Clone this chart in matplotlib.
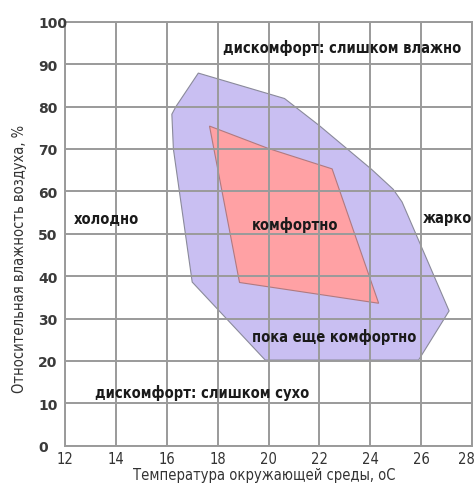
import matplotlib
matplotlib.use('Agg')
import matplotlib.pyplot as plt
from matplotlib.transforms import ScaledTranslation

# outer zone: "пока еще комфортно"
outer_t = [17.24, 20.63, 22.0, 24.05, 24.9, 25.25, 27.1, 25.9, 19.87, 17.0, 16.26, 16.2, 16.36]
outer_h = [87.9, 81.9, 75.5, 65.2, 60.5, 57.5, 31.8, 20.2, 20.2, 38.6, 70.0, 78.2, 80.0]

# inner zone: "комфортно"
inner_t = [17.68, 20.0, 22.5, 24.33, 18.86]
inner_h = [75.4, 70.1, 65.3, 33.6, 38.5]

x_ticks = [12, 14, 16, 18, 20, 22, 24, 26, 28]
y_ticks = [0, 10, 20, 30, 40, 50, 60, 70, 80, 90, 100]

labels = ['дискомфорт: слишком влажно', 'холодно', 'комфортно', 'жарко',
          'пока еще комфортно', 'дискомфорт: слишком сухо']
label_t = [22.9, 12.35, 21.05, 27.05, 22.6, 17.4]
label_h = [94.0, 53.5, 52.3, 53.9, 25.9, 12.6]
label_ha = ['center', 'left', 'center', 'center', 'center', 'center']

fam = ['DejaVu Sans']

fig = plt.figure(figsize=(4.76, 4.85), dpi=100)
ax = fig.add_axes([0.1366, 0.079, 0.855, 0.874])

ax.fill(outer_t, outer_h, facecolor='#c9bff2', edgecolor='#8a8a9a', linewidth=0.8, zorder=1)
ax.fill(inner_t, inner_h, facecolor='#ffa1a4', edgecolor='#b07a80', linewidth=0.8, zorder=2)

ax.set_xlim(12, 28)
ax.set_ylim(0, 100)
ax.set_xticks(x_ticks)
ax.set_yticks(y_ticks)
ax.grid(True, color='#9a9a9a', linewidth=1.4, zorder=3)
ax.set_axisbelow(False)
for s in ax.spines.values():
    s.set_color('#9a9a9a')
    s.set_linewidth(1.4)
ax.tick_params(axis='x', length=0, pad=4)
ax.tick_params(axis='y', length=0, pad=19.5)

for lab in ax.get_yticklabels():
    lab.set_fontfamily(fam)
    lab.set_fontweight('bold')
    lab.set_fontsize(10)
    lab.set_color('#3a3a3a')
    lab.set_horizontalalignment('left')
for lab in ax.get_xticklabels():
    lab.set_fontfamily(fam)
    lab.set_fontstretch('condensed')
    lab.set_fontsize(10.5)
    lab.set_color('#333333')
# keep the last x label inside the picture
last = ax.get_xticklabels()[-1]
last.set_transform(last.get_transform() + ScaledTranslation(-4 / 72, 0, fig.dpi_scale_trans))

ax.set_xlabel('Температура окружающей среды, оС', family=fam, stretch='condensed',
              fontsize=10.5, color='#333333')
ax.set_ylabel('Относительная влажность воздуха, %', family=fam, stretch='condensed',
              fontsize=10.5, color='#333333')
ax.xaxis.set_label_coords(0.489, -0.05)
ax.yaxis.set_label_coords(-0.094, 0.443)

for txt, t, h, ha in zip(labels, label_t, label_h, label_ha):
    ax.text(t, h, txt, ha=ha, va='center', family=fam, stretch='condensed',
            fontweight='bold', fontsize=10.5, color='#1a1a1a', zorder=4)

fig.savefig('out.png', dpi=100)
